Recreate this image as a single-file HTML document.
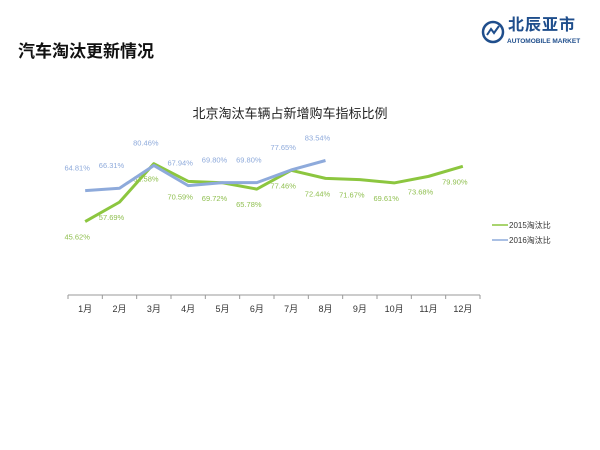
<!DOCTYPE html>
<html><head><meta charset="utf-8"><style>
body{margin:0;width:600px;height:450px;background:#fff;overflow:hidden;font-family:"Liberation Sans","Noto Sans CJK SC",sans-serif}
</style></head><body>
<div style="position:absolute;left:18px;top:37px;font-size:17px;font-weight:bold;color:#111">汽车淘汰更新情况</div>
<div style="position:absolute;left:481px;top:18px;width:118px;height:32px">
 <svg width="24" height="24" style="position:absolute;left:0;top:2px"><circle cx="12" cy="12" r="10" fill="none" stroke="#1f4e8c" stroke-width="2.5"/><path d="M6 15 L10 9 L13 13 L18 6" stroke="#1f4e8c" stroke-width="2" fill="none"/></svg>
 <div style="position:absolute;left:27px;top:-1px;font-size:16px;line-height:18px;font-weight:bold;color:#1f4e8c;letter-spacing:1px">北辰亚市</div>
 <div style="position:absolute;left:26px;top:20px;font-size:6.5px;line-height:8px;font-weight:bold;color:#1f4e8c;white-space:nowrap">AUTOMOBILE MARKET</div>
</div>
<svg id="chart" width="600" height="450" style="position:absolute;left:0;top:0">
<text x="290" y="118" text-anchor="middle" font-size="13" fill="#222">北京淘汰车辆占新增购车指标比例</text>
</svg>
<script>
const categories=["1月","2月","3月","4月","5月","6月","7月","8月","9月","10月","11月","12月"];
const series2015=[45.62,57.69,81.58,70.59,69.72,65.78,77.46,72.44,71.67,69.61,73.68,79.90];
const series2016=[64.81,66.31,80.46,67.94,69.80,69.80,77.65,83.54];
const seriesNames=["2015淘汰比","2016淘汰比"];
const svg=document.getElementById('chart');const NS='http://www.w3.org/2000/svg';
const x0=68,x1=480,base=295;const bw=(x1-x0)/categories.length;
const X=i=>x0+bw*(i+0.5);const Y=v=>base-v*1.61;
function mk(t,a){const e=document.createElementNS(NS,t);for(const k in a)e.setAttribute(k,a[k]);svg.appendChild(e);return e;}
let ax=mk('line',{x1:x0,x2:x1,y1:base,y2:base,stroke:'#999','stroke-width':1});


for(let i=0;i<=categories.length;i++){let t=mk('line',{x1:x0+bw*i,x2:x0+bw*i,y1:base,y2:base+4,stroke:'#999'});

}
categories.forEach((c,i)=>{let t=mk('text',{x:X(i),y:base+17,'text-anchor':'middle','font-size':9,fill:'#333'});t.textContent=c;

});
function drawSeries(vals,color,lblColor,dy,name){
 let p=mk('polyline',{points:vals.map((v,i)=>X(i)+','+Y(v)).join(' '),fill:'none',stroke:color,'stroke-width':3,'stroke-linejoin':'round'});
 
 
 vals.forEach((v,i)=>{let t=mk('text',{x:X(i)-8,y:Y(v)+dy,'text-anchor':'middle','font-size':7.5,fill:lblColor});t.textContent=v.toFixed(2)+'%';
 
 });
}
drawSeries(series2015,'#8cc63f','#8fbf4f',18,'line-2015');
drawSeries(series2016,'#8eaadb','#8eaadb',-20,'line-2016');
[[seriesNames[0],'#8cc63f',225],[seriesNames[1],'#8eaadb',240]].forEach(([n,c,y])=>{
 let l=mk('line',{x1:492,x2:508,y1:y,y2:y,stroke:c,'stroke-width':1.5});
 
 
 let t=mk('text',{x:509,y:y+3,'font-size':8,fill:'#333'});t.textContent=n;
 
 
});
</script>
</body></html>
